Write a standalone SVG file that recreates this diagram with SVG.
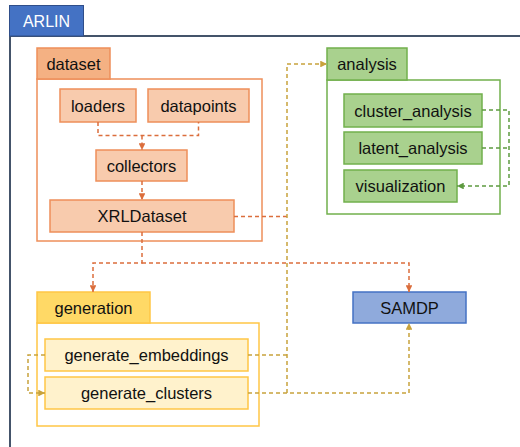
<svg xmlns="http://www.w3.org/2000/svg" width="520" height="447" viewBox="0 0 520 447">
<defs>
<style>
text{font-family:"Liberation Sans",Arial,sans-serif;font-size:16.5px;fill:#111;text-anchor:middle}
.ds{fill:#F8CBAD;stroke:#EE8F5A;stroke-width:1.5}
.dsb{fill:#fff;stroke:#EE8F5A;stroke-width:1.5}
.dst{fill:#F4B183;stroke:#EE8F5A;stroke-width:1.5}
.an{fill:#A9D18E;stroke:#72B04C;stroke-width:1.5}
.anb{fill:#fff;stroke:#72B04C;stroke-width:1.5}
.gn{fill:#FFF2CC;stroke:#FFC646;stroke-width:1.5}
.gnb{fill:#fff;stroke:#FFC646;stroke-width:1.5}
.gnt{fill:#FFD966;stroke:#FFC646;stroke-width:1.5}
.c{fill:none;stroke-width:1.5;stroke-dasharray:4 3}
.co{stroke:#DB6E3C}
.cg{stroke:#C8A23C}
.cv{stroke:#5E9A40}
</style>
<marker id="ao" viewBox="0 0 10 10" refX="10" refY="5" markerWidth="4.5" markerHeight="4.5" orient="auto"><path d="M0,0L10,5L0,10z" fill="#DB6E3C"/></marker>
<marker id="ag" viewBox="0 0 10 10" refX="10" refY="5" markerWidth="4.5" markerHeight="4.5" orient="auto"><path d="M0,0L10,5L0,10z" fill="#C8A23C"/></marker>
<marker id="av" viewBox="0 0 10 10" refX="10" refY="5" markerWidth="4.5" markerHeight="4.5" orient="auto"><path d="M0,0L10,5L0,10z" fill="#5E9A40"/></marker>
</defs>
<rect width="520" height="447" fill="#fff"/>
<g id="ARLIN">
<rect x="10" y="36" width="530" height="430" fill="#fff" stroke="#44546A" stroke-width="2"/>
<rect x="9.5" y="5.5" width="74" height="30.5" fill="#4472C4" stroke="#2F4E8A" stroke-width="1"/>
<text x="46.5" y="26.5" style="fill:#fff;font-size:16px">ARLIN</text>
</g>
<g id="dataset">
<rect class="dsb" x="37" y="79" width="225" height="162"/>
<rect class="dst" x="37" y="48" width="73" height="31"/>
<text x="73.5" y="69.5">dataset</text>
</g>
<g id="loaders"><rect class="ds" x="60" y="89" width="76" height="33"/><text x="98" y="111.5">loaders</text></g>
<g id="datapoints"><rect class="ds" x="148" y="89" width="101" height="33"/><text x="198.5" y="111.5">datapoints</text></g>
<g id="collectors"><rect class="ds" x="96" y="150" width="91" height="31"/><text x="141.5" y="171.5">collectors</text></g>
<g id="XRLDataset"><rect class="ds" x="50" y="200" width="184" height="32"/><text x="142" y="222">XRLDataset</text></g>
<g id="analysis">
<rect class="anb" x="327" y="80" width="173" height="134"/>
<rect class="an" x="327" y="48" width="80" height="32"/>
<text x="367" y="70">analysis</text>
</g>
<g id="cluster_analysis"><rect class="an" x="344" y="94" width="138" height="33"/><text x="413" y="116.5">cluster_analysis</text></g>
<g id="latent_analysis"><rect class="an" x="344" y="132" width="138" height="32"/><text x="413" y="154">latent_analysis</text></g>
<g id="visualization"><rect class="an" x="344" y="170" width="113" height="32"/><text x="400.5" y="192">visualization</text></g>
<g id="generation">
<rect class="gnb" x="37" y="323" width="222" height="103"/>
<rect class="gnt" x="37" y="292" width="113" height="31"/>
<text x="93.5" y="313.5">generation</text>
</g>
<g id="generate_embeddings"><rect class="gn" x="45" y="339" width="203" height="32"/><text x="146.5" y="361">generate_embeddings</text></g>
<g id="generate_clusters"><rect class="gn" x="45" y="377" width="203" height="32"/><text x="146.5" y="399">generate_clusters</text></g>
<g id="SAMDP"><rect x="353" y="292" width="113" height="31" fill="#8FAADC" stroke="#4472C4" stroke-width="1.5"/><text x="409.5" y="313.5">SAMDP</text></g>
<g id="connectors">
<path class="c co" d="M98,122V135.5H198.5V122"/>
<path class="c co" d="M142,135.5V150" marker-end="url(#ao)"/>
<path class="c co" d="M142,181V200" marker-end="url(#ao)"/>
<path class="c co" d="M234,216.5H287"/>
<path class="c co" d="M142,232V263H93V292" marker-end="url(#ao)"/>
<path class="c co" d="M142,263H409V292" marker-end="url(#ao)"/>
<path class="c cg" d="M248,355H287"/>
<path class="c cg" d="M287,393V64H327" marker-end="url(#ag)"/>
<path class="c cg" d="M248,393H409V323" marker-end="url(#ag)"/>
<path class="c cg" d="M45,355H28V393H45" marker-end="url(#ag)"/>
<path class="c cv" d="M482,110H509V186H457" marker-end="url(#av)"/>
<path class="c cv" d="M482,148H509"/>
</g>
</svg>
